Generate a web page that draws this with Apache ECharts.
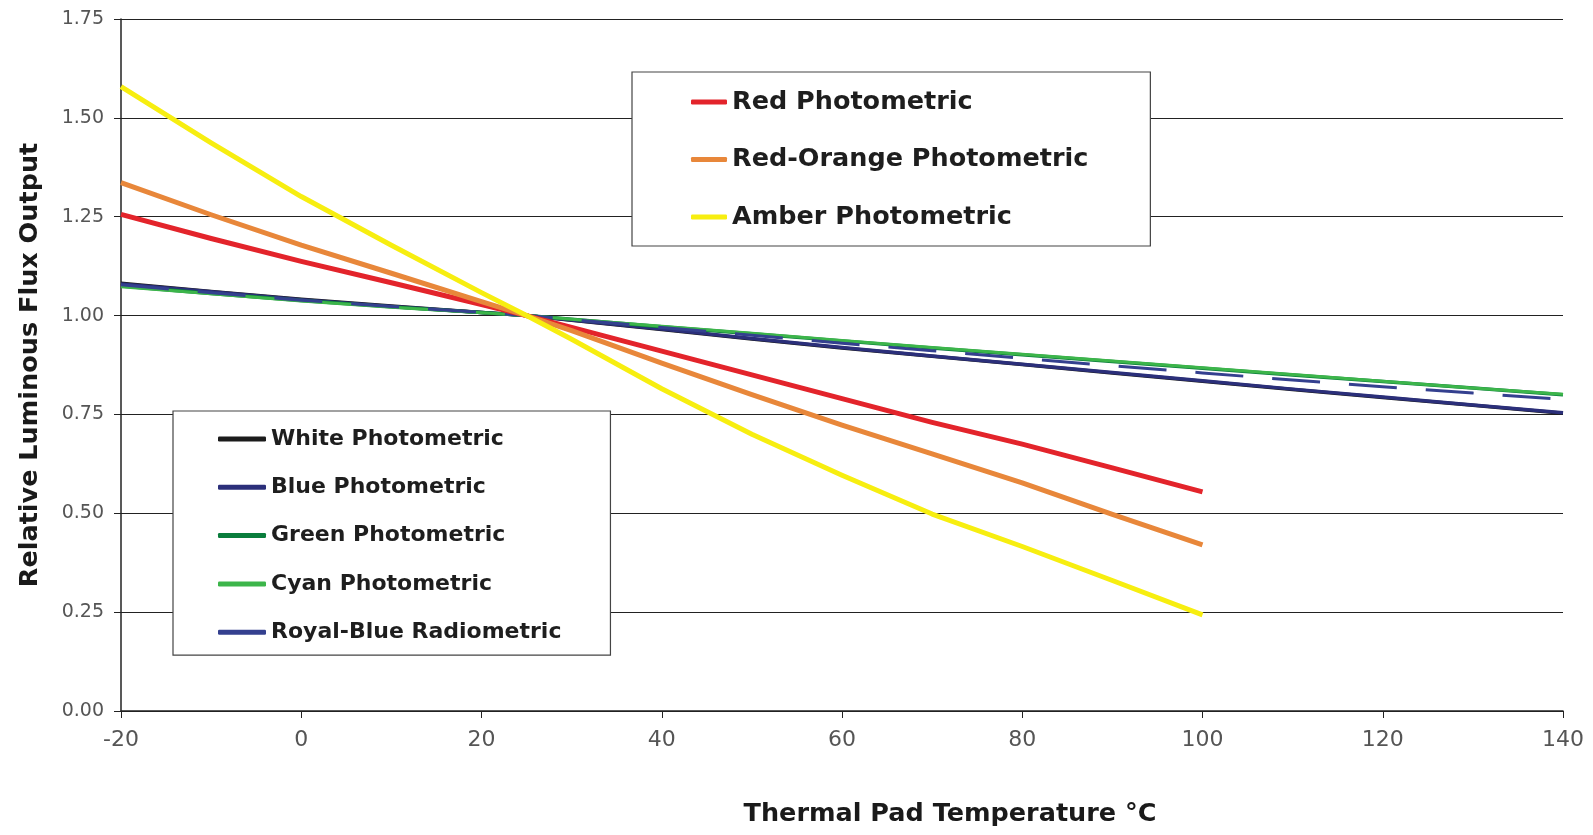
<!DOCTYPE html>
<html>
<head>
<meta charset="utf-8">
<script src="https://cdn.jsdelivr.net/npm/echarts@6/dist/echarts.min.js"></script>
<style>
html,body{margin:0;padding:0;background:#fff;}
#chart{width:1593px;height:835px;}
</style>
</head>
<body>
<div id="chart"></div>
<script>
// ---- data ----
const tempsShort = [-20, -10, 0, 10, 20, 25, 30, 40, 50, 60, 70, 80, 90, 100];
const tempsLong = [-20, -10, 0, 10, 20, 25, 30, 40, 50, 60, 70, 80, 90, 100, 110, 120, 130, 140];

const redPhot = [1.256, 1.195, 1.137, 1.083, 1.028, 1.0, 0.970, 0.910, 0.850, 0.790, 0.730, 0.675, 0.615, 0.554];
const redOrangePhot = [1.336, 1.255, 1.178, 1.107, 1.035, 1.0, 0.962, 0.880, 0.800, 0.723, 0.650, 0.577, 0.497, 0.420];
const amberPhot = [1.579, 1.437, 1.301, 1.178, 1.058, 1.0, 0.940, 0.815, 0.700, 0.596, 0.498, 0.416, 0.330, 0.243];

const whitePhot = [1.082, 1.061, 1.041, 1.024, 1.008, 1.0, 0.988, 0.965, 0.941, 0.918, 0.897, 0.876, 0.855, 0.834, 0.813, 0.793, 0.773, 0.753];
const bluePhot = [1.080, 1.060, 1.040, 1.023, 1.008, 1.0, 0.989, 0.966, 0.942, 0.919, 0.898, 0.877, 0.856, 0.835, 0.814, 0.794, 0.774, 0.754];
const greenPhot = [1.075, 1.056, 1.038, 1.022, 1.008, 1.0, 0.991, 0.972, 0.954, 0.936, 0.918, 0.901, 0.884, 0.867, 0.850, 0.833, 0.817, 0.800];
const cyanPhot = [1.073, 1.055, 1.037, 1.021, 1.007, 1.0, 0.991, 0.973, 0.955, 0.937, 0.919, 0.902, 0.885, 0.868, 0.851, 0.834, 0.817, 0.801];
const royalBlueRad = [1.078, 1.058, 1.039, 1.023, 1.008, 1.0, 0.990, 0.970, 0.950, 0.930, 0.911, 0.892, 0.873, 0.855, 0.837, 0.820, 0.804, 0.788];

const xTicks = { min: -20, max: 140, step: 20 };
const yTicks = { min: 0, max: 1.75, step: 0.25 };

const names = {
  red: 'Red Photometric', redOrange: 'Red-Orange Photometric', amber: 'Amber Photometric',
  white: 'White Photometric', blue: 'Blue Photometric', green: 'Green Photometric',
  cyan: 'Cyan Photometric', royal: 'Royal-Blue Radiometric'
};

function pairs(xs, ys) { return xs.map((x, i) => [x, ys[i]]); }

function lineSeries(name, xs, ys, color, width, type) {
  return {
    name: name, type: 'line', data: pairs(xs, ys),
    showSymbol: false, symbol: 'none', smooth: false,
    lineStyle: { color: color, width: width, type: type || 'solid', join: 'round', cap: 'butt' },
    itemStyle: { color: color },
    emphasis: { disabled: true }, silent: true
  };
}

const chart = echarts.init(document.getElementById('chart'), null, { renderer: 'canvas' });
const legendFont = 'DejaVu Sans';
chart.setOption({
  animation: false,
  backgroundColor: '#ffffff',
  grid: { left: 121, right: 30, top: 19, bottom: 124, containLabel: false },
  xAxis: {
    type: 'value', min: xTicks.min, max: xTicks.max, interval: xTicks.step,
    name: 'Thermal Pad Temperature °C', nameLocation: 'middle', nameGap: 90,
    nameTextStyle: { fontFamily: legendFont, fontWeight: 'bold', fontSize: 25.5, color: '#1a1a1a', padding: [0, 0, 0, 216] },
    axisLine: { show: true, onZero: false, lineStyle: { color: '#222', width: 1.5 } },
    axisTick: { show: true, length: 7, lineStyle: { color: '#222' } },
    axisLabel: { fontFamily: 'DejaVu Sans', fontSize: 22, color: '#555', margin: 18 },
    splitLine: { show: false }
  },
  yAxis: {
    type: 'value', min: yTicks.min, max: yTicks.max, interval: yTicks.step,
    name: 'Relative Luminous Flux Output', nameLocation: 'middle', nameGap: 78,
    nameTextStyle: { fontFamily: legendFont, fontWeight: 'bold', fontSize: 25.5, color: '#1a1a1a' },
    axisLine: { show: true, onZero: false, lineStyle: { color: '#222', width: 1.5 } },
    axisTick: { show: true, length: 7, lineStyle: { color: '#222' } },
    axisLabel: { fontFamily: 'DejaVu Sans', fontSize: 19, color: '#555', margin: 17,
      formatter: v => v.toFixed(2) },
    splitLine: { show: true, lineStyle: { color: '#222', width: 1.2 } }
  },
  legend: [
    {
      orient: 'vertical', left: 632, top: 72,
      padding: [15, 62, 14, 59], itemGap: 27.5,
      itemWidth: 36, itemHeight: 5, icon: 'roundRect',
      backgroundColor: '#fff', borderColor: '#444', borderWidth: 1.2,
      selectedMode: false,
      textStyle: { fontFamily: legendFont, fontWeight: 'bold', fontSize: 25.5, color: '#1e1e1e', lineHeight: 30 },
      data: [names.red, names.redOrange, names.amber]
    },
    {
      orient: 'vertical', left: 173, top: 411,
      padding: [15, 49, 10, 45], itemGap: 22.3,
      itemWidth: 48, itemHeight: 5, icon: 'roundRect',
      backgroundColor: '#fff', borderColor: '#444', borderWidth: 1.2,
      selectedMode: false,
      textStyle: { fontFamily: legendFont, fontWeight: 'bold', fontSize: 22, color: '#1e1e1e', lineHeight: 26 },
      data: [names.white, names.blue, names.green, names.cyan, names.royal]
    }
  ],
  series: [
    lineSeries(names.white, tempsLong, whitePhot, '#1b1b1b', 3.5),
    lineSeries(names.blue, tempsLong, bluePhot, '#2b2f7a', 3.5),
    lineSeries(names.green, tempsLong, greenPhot, '#0a7d3c', 3.5),
    lineSeries(names.cyan, tempsLong, cyanPhot, '#3cb54a', 3),
    lineSeries(names.royal, tempsLong, royalBlueRad, '#34408f', 3, [48, 29]),
    lineSeries(names.red, tempsShort, redPhot, '#e3242b', 5),
    lineSeries(names.redOrange, tempsShort, redOrangePhot, '#e8873a', 5),
    lineSeries(names.amber, tempsShort, amberPhot, '#f7ee10', 5)
  ]
});
</script>
</body>
</html>
